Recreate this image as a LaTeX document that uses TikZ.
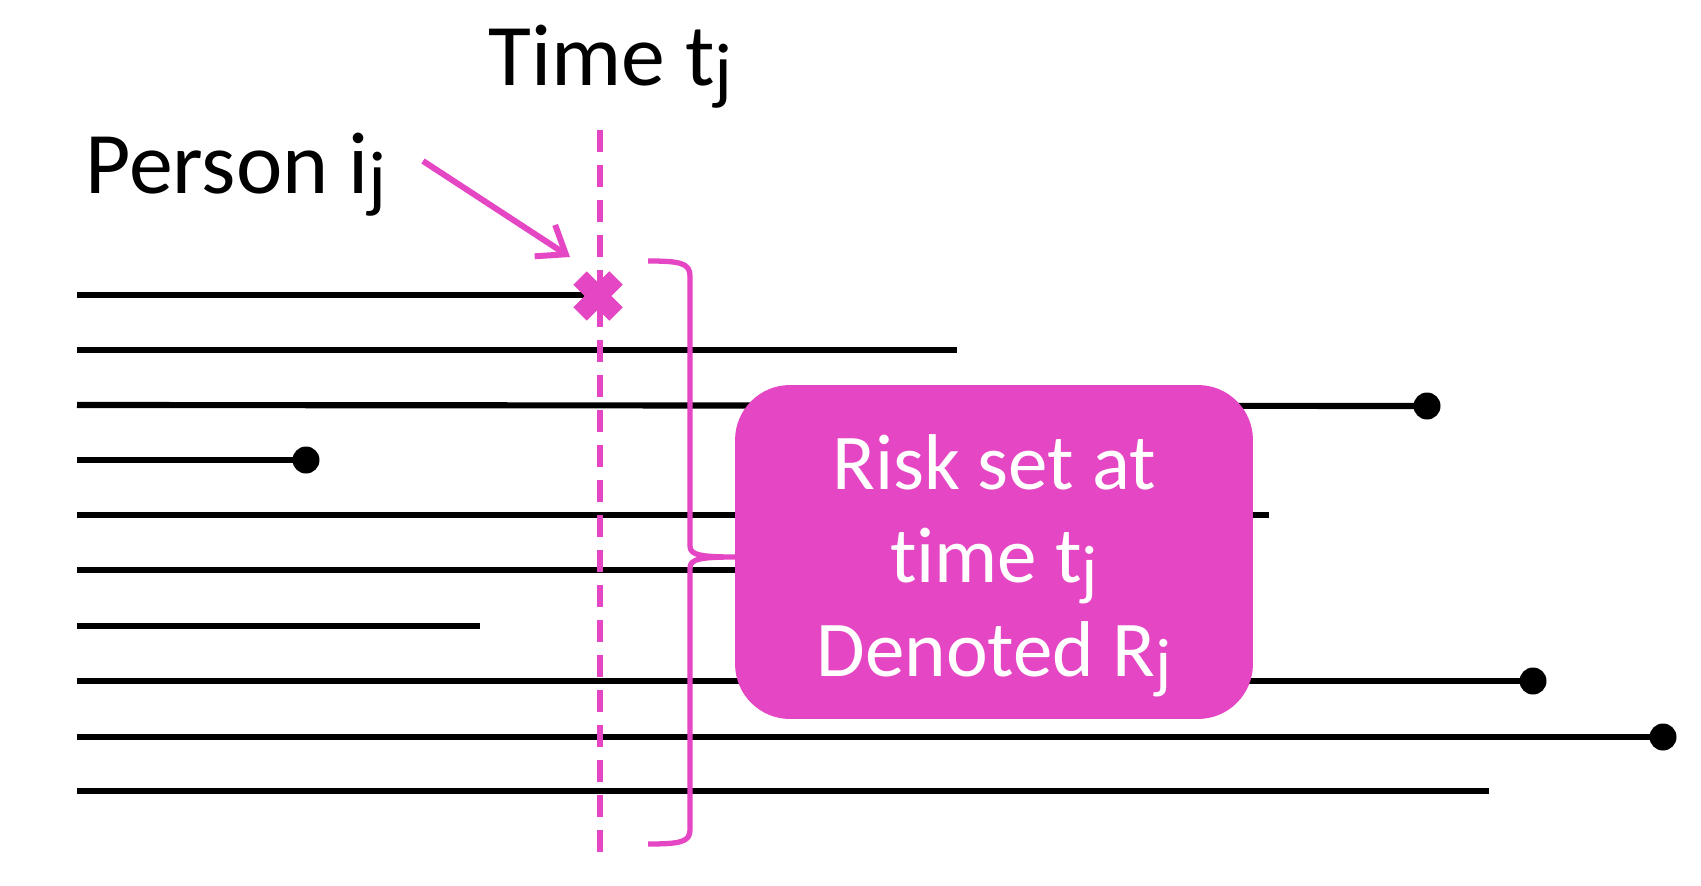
\documentclass[tikz,border=0pt]{standalone}
\usepackage{fontspec}
\usepackage{graphicx}
\setmainfont[Ligatures={NoCommon,NoRequired,NoContextual}]{Carlito}
\usetikzlibrary{arrows.meta,calc}
\definecolor{pinkM}{RGB}{229,70,196}
\newcommand\subj{\raisebox{-0.12em}{\scalebox{0.85}{j}}}
\tikzset{
  life/.style={line width=3.5pt, black},
  enddot/.style={circle, fill=black, inner sep=0pt, minimum size=0.54cm},
  timeline/.style={pinkM, line width=3.4pt, dash pattern=on 0.44cm off 0.26cm},
  bracestyle/.style={pinkM, line width=3pt},
  callout/.style={pinkM, line width=3.4pt, -{Straight Barb[length=0.5cm,width=0.75cm,line width=3.4pt]}},
  riskbox/.style={rectangle, rounded corners=1.1cm, fill=pinkM, minimum width=10.36cm, minimum height=6.68cm},
  risktext/.style={text=white, align=center, inner sep=0pt, font=\fontsize{45pt}{53pt}\selectfont},
  bigtext/.style={anchor=base west, inner sep=0pt, font=\fontsize{50pt}{60pt}\selectfont}
}
\begin{document}
\begin{tikzpicture}[x=0.02cm,y=-0.02cm]
\useasboundingbox (0,0) rectangle (1701,886);
% start points
\coordinate (s1) at (77,295);
\coordinate (s2) at (77,350);
\coordinate (s3) at (77,405);
\coordinate (s4) at (77,460);
\coordinate (s5) at (77,515);
\coordinate (s6) at (77,570);
\coordinate (s7) at (77,626);
\coordinate (s8) at (77,681);
\coordinate (s9) at (77,737);
\coordinate (s10) at (77,791);
% end points
\coordinate (e1) at (590,295);
\coordinate (e2) at (957,350);
\node[enddot] (e3) at (1427,406) {};
\node[enddot] (e4) at (306,460) {};
\coordinate (e5) at (1269,515);
\coordinate (e6) at (1000,570);
\coordinate (e7) at (480,626);
\node[enddot] (e8) at (1533,681) {};
\node[enddot] (e9) at (1663,737) {};
\coordinate (e10) at (1489,791);
\draw[life] (s1) -- (e1);
\draw[life] (s2) -- (e2);
\draw[life] (s3) -- (e3.center);
\draw[life] (s4) -- (e4.center);
\draw[life] (s5) -- (e5);
\draw[life] (s6) -- (e6);
\draw[life] (s7) -- (e7);
\draw[life] (s8) -- (e8.center);
\draw[life] (s9) -- (e9.center);
\draw[life] (s10) -- (e10);
% time line
\coordinate (ttop) at (600,130);
\coordinate (tbot) at (600,852);
\draw[timeline] (ttop) -- (tbot);
% event cross
\coordinate (ev) at (598,296);
\draw[pinkM, line width=0.38cm] ($(ev)+(-18,-18)$) -- ($(ev)+(18,18)$);
\draw[pinkM, line width=0.38cm] ($(ev)+(-18,18)$) -- ($(ev)+(18,-18)$);
% labels
\node[bigtext] (time) at (488,85) {Time t\subj};
\node[bigtext] (person) at (85,193) {Person i\subj};
\coordinate (arrs) at (423,161);
\coordinate (arre) at (570,257);
\draw[callout] (arrs) -- (arre);
% brace
\draw[bracestyle] (648,261) .. controls (680,261) and (690,263) .. (690,276)
  -- (690,546) .. controls (690,555) and (700,557) .. (736,557)
  .. controls (700,557) and (690,559) .. (690,568)
  -- (690,830) .. controls (690,842) and (680,844) .. (648,844);
% box
\node[riskbox] (risk) at (994,552) {};
\node[risktext] (risklabel) at (994,566) {Risk set at\\time t\subj\\Denoted R\subj};
\end{tikzpicture}
\end{document}
